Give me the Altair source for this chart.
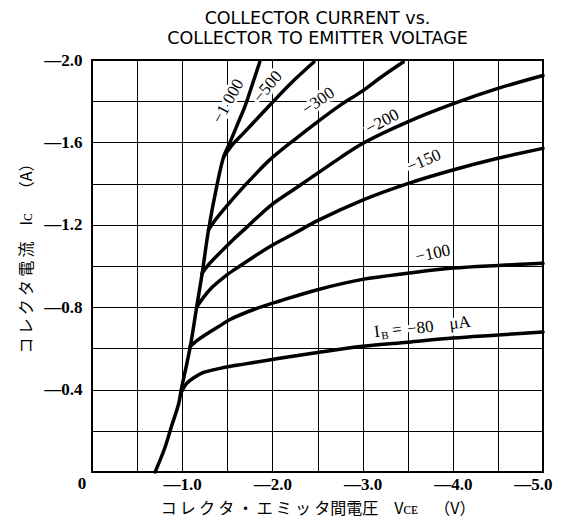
import altair as alt
import pandas as pd

# ---- data (VCE in volts, IC in amperes) ----
V1000 = [-0.70, -0.81, -0.88, -0.96, -0.99, -1.09, -1.16, -1.22, -1.29, -1.38, -1.46, -1.53, -1.615, -1.70, -1.78, -1.86]
I1000 = [0.0, -0.12, -0.22, -0.33, -0.40, -0.61, -0.80, -0.96, -1.17, -1.38, -1.53, -1.60, -1.69, -1.78, -1.885, -1.99]

V500 = [-1.46, -1.56, -1.68, -1.83, -1.97, -2.20, -2.46]
I500 = [-1.53, -1.59, -1.645, -1.715, -1.78, -1.885, -1.99]

V300 = [-1.29, -1.36, -1.49, -1.64, -1.79, -1.97, -2.25, -2.5, -2.75, -3.0, -3.2, -3.45]
I300 = [-1.175, -1.22, -1.29, -1.365, -1.435, -1.515, -1.615, -1.70, -1.78, -1.85, -1.915, -1.99]

V200 = [-1.22, -1.30, -1.42, -1.57, -1.72, -1.97, -2.25, -2.5, -2.75, -3.0, -3.5, -4.0, -4.5, -5.0]
I200 = [-0.964, -1.01, -1.065, -1.13, -1.19, -1.29, -1.375, -1.45, -1.525, -1.595, -1.70, -1.787, -1.862, -1.925]

V150 = [-1.16, -1.24, -1.34, -1.49, -1.64, -1.97, -2.25, -2.5, -3.0, -3.5, -4.0, -4.5, -5.0]
I150 = [-0.80, -0.85, -0.90, -0.955, -1.00, -1.094, -1.16, -1.22, -1.32, -1.40, -1.466, -1.523, -1.571]

V100 = [-1.086, -1.17, -1.27, -1.40, -1.53, -1.80, -2.08, -2.5, -3.0, -3.5, -4.0, -4.5, -5.0]
I100 = [-0.608, -0.64, -0.67, -0.705, -0.74, -0.79, -0.83, -0.885, -0.935, -0.965, -0.99, -1.003, -1.013]

V80 = [-0.994, -1.05, -1.12, -1.23, -1.42, -1.70, -2.08, -2.5, -3.0, -3.5, -4.0, -4.5, -5.0]
I80 = [-0.39, -0.43, -0.455, -0.482, -0.503, -0.525, -0.552, -0.58, -0.61, -0.63, -0.65, -0.665, -0.68]

SERIES = ["-1000", "-500", "-300", "-200", "-150", "-100", "-80"]

# curve labels
LABEL_TEXT = ["\u22121 000", "\u2212500", "\u2212300", "\u2212200", "\u2212150", "\u2212100",
              "I", "B", "=", "\u221280", "\u03bcA"]
LABEL_V = [-1.51, -1.95, -2.51, -3.22, -3.68, -3.78, -3.16, -3.25, -3.38, -3.64, -4.08]
LABEL_I = [-1.80, -1.87, -1.80, -1.70, -1.51, -1.06, -0.680, -0.660, -0.689, -0.699, -0.723]
LABEL_ANGLE = [299, 310, 325, 332, 337, 348, 353, 353, 353, 353, 353]
LABEL_SIZE = [17, 17, 17, 17, 17, 17, 17, 11, 17, 17, 17]

X_TICKS = [0, -0.5, -1.0, -1.5, -2.0, -2.5, -3.0, -3.5, -4.0, -4.5, -5.0]
Y_TICKS = [0, -0.2, -0.4, -0.6, -0.8, -1.0, -1.2, -1.4, -1.6, -1.8, -2.0]

# ---- build tables ----
rows = []
for name, vs, cs in zip(SERIES, [V1000, V500, V300, V200, V150, V100, V80],
                        [I1000, I500, I300, I200, I150, I100, I80]):
    for k, (v, c) in enumerate(zip(vs, cs)):
        rows.append({"ib": name, "vce": v, "ic": c, "k": k})
curves = pd.DataFrame(rows)

labels = pd.DataFrame({"text": LABEL_TEXT, "vce": LABEL_V, "ic": LABEL_I,
                       "angle": LABEL_ANGLE, "size": LABEL_SIZE})
corner = pd.DataFrame({"text": ["0"], "vce": [X_TICKS[0]], "ic": [Y_TICKS[0]]})

label_font = "Liberation Serif"
title_font = "Noto Sans CJK JP"
TS = "\u2009"

x_axis = alt.Axis(
    values=X_TICKS,
    labelExpr="datum.value != 0 && round(datum.value*2) % 2 == 0 ? '\u2014' + format(-datum.value, '.1f') : ''",
    labelAlign={"condition": {"test": "datum.value <= -4.99", "value": "right"}, "value": "center"},
    labelOffset={"condition": {"test": "datum.value <= -4.99", "value": 9}, "value": 0},
    grid=True, gridColor="black", gridWidth=1, gridOpacity=1,
    ticks=False, domain=False, labelFlush=False, labelOverlap=False,
    labelFont=label_font, labelFontWeight="bold", labelFontSize=17, labelColor="black",
    labelPadding=4,
    title=TS.join("\u30b3\u30ec\u30af\u30bf\u30fb\u30a8\u30df\u30c3\u30bf") + "\u9593\u96fb\u5727\u3000V\u1d04\u1d07\u2003\uff08V\uff09",
    titleFont=title_font, titleFontSize=16, titleFontWeight="normal", titleColor="black",
    titlePadding=8,
)
y_axis = alt.Axis(
    values=Y_TICKS,
    labelExpr="datum.value != 0 && round(datum.value*5) % 2 == 0 ? '\u2014' + format(-datum.value, '.1f') : ''",
    grid=True, gridColor="black", gridWidth=1, gridOpacity=1,
    ticks=False, domain=False, labelFlush=False, labelOverlap=False,
    labelFont=label_font, labelFontWeight="bold", labelFontSize=17, labelColor="black",
    labelPadding=10,
    title=TS.join("\u30b3\u30ec\u30af\u30bf\u96fb\u6d41") + "\u3000I\u1d04\u2003\uff08A\uff09",
    titleFont=title_font, titleFontSize=16, titleFontWeight="normal", titleColor="black",
    titlePadding=9, titleY=194,
)

X = alt.X("vce:Q", scale=alt.Scale(domain=[0, -5], nice=False, zero=False), axis=x_axis)
Y = alt.Y("ic:Q", scale=alt.Scale(domain=[0, -2], nice=False, zero=False), axis=y_axis)

halo = alt.Chart(labels).mark_text(font=label_font, stroke="white", strokeWidth=6,
                                   fill="white").encode(
    x=X, y=Y, text="text:N",
    angle=alt.Angle("angle:Q", scale=None),
    size=alt.Size("size:Q", scale=None),
)

lines = alt.Chart(curves).mark_line(color="black", strokeWidth=3.5,
                                    interpolate="catmull-rom", strokeCap="round",
                                    strokeJoin="round").encode(
    x=X, y=Y, detail="ib:N", order="k:Q"
)

text = alt.Chart(labels).mark_text(font=label_font, color="black").encode(
    x=X, y=Y, text="text:N",
    angle=alt.Angle("angle:Q", scale=None),
    size=alt.Size("size:Q", scale=None),
)

zero = alt.Chart(corner).mark_text(font=label_font, fontWeight="bold", fontSize=17,
                                   color="black", dx=-10, dy=12).encode(
    x=X, y=Y, text="text:N"
)

chart = alt.layer(halo, lines, text, zero).properties(
    width=451, height=412,
    autosize=alt.AutoSizeParams(type="none"),
    padding={"left": 84, "top": 52, "right": 10, "bottom": 48},
    title=alt.TitleParams(
        text=["COLLECTOR CURRENT vs.", "COLLECTOR TO EMITTER VOLTAGE"],
        font="DejaVu Sans", fontSize=17.5, fontWeight="normal", color="black",
        anchor="middle", offset=4, lineHeight=20,
    ),
).configure_view(stroke="black", strokeWidth=2)

chart.save("out.html", embed_options={"renderer": "svg", "actions": False})
